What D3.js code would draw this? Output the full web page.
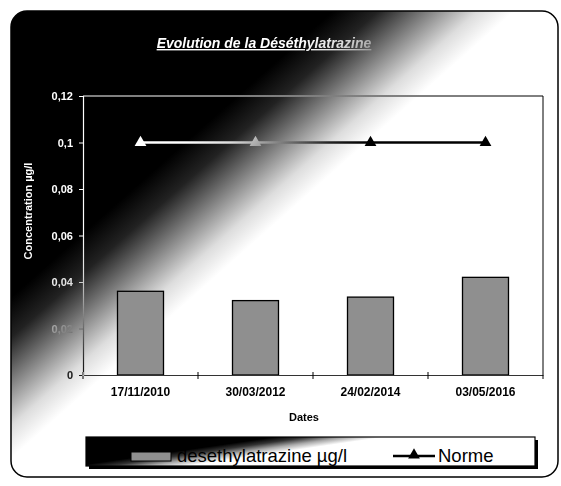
<!DOCTYPE html>
<html>
<head>
<meta charset="utf-8">
<script src="https://cdn.jsdelivr.net/npm/d3@7"></script>
<style>
  body { margin: 0; background: #fff; }
  svg { display: block; font-family: "Liberation Sans", Arial, sans-serif; }
</style>
</head>
<body>
<svg id="chart" width="561" height="486"></svg>
<script>
"use strict";

var dates = ["17/11/2010", "30/03/2012", "24/02/2014", "03/05/2016"];
var desethylatrazine = [0.036, 0.032, 0.0335, 0.042];
var norme = [0.1, 0.1, 0.1, 0.1];
var yTickValues = [0, 0.02, 0.04, 0.06, 0.08, 0.1, 0.12];
var yTickLabels = ["0", "0,02", "0,04", "0,06", "0,08", "0,1", "0,12"];

var BAR_FILL = "#8f8f8f";
var plot = { left: 83, right: 543, top: 96, bottom: 375 };

var svg = d3.select("#chart");
var defs = svg.append("defs");

function addStops(gradient, stops) {
  stops.forEach(function (s) {
    gradient.append("stop").attr("offset", s[0]).attr("stop-color", s[1]);
  });
}

// scanned chart: dark top left corner fading to white along a diagonal band
addStops(defs.append("linearGradient")
  .attr("id", "bgFill")
  .attr("gradientUnits", "userSpaceOnUse")
  .attr("x1", 152).attr("y1", 172).attr("x2", 232).attr("y2", 262),
  [[0, "#000"], [0.25, "#222"], [0.55, "#888"], [0.8, "#ddd"], [1, "#fff"]]);

addStops(defs.append("linearGradient")
  .attr("id", "legendFill")
  .attr("gradientUnits", "userSpaceOnUse")
  .attr("x1", 69.9).attr("y1", 466.8).attr("x2", 72.2).attr("y2", 482.6),
  [[0, "#000"], [0.3, "#333"], [0.65, "#aaa"], [1, "#fff"]]);

svg.append("rect")
  .attr("x", 11).attr("y", 11).attr("width", 547).attr("height", 466)
  .attr("rx", 16)
  .attr("fill", "url(#bgFill)")
  .attr("stroke", "#000")
  .attr("stroke-width", 1.5);

var x = d3.scaleBand().domain(dates).range([plot.left, plot.right]);
var y = d3.scaleLinear().domain([0, 0.12]).range([plot.bottom, plot.top]);

// bars, 40% of the category band, centred
svg.append("g")
  .selectAll("rect")
  .data(desethylatrazine)
  .enter()
  .append("rect")
  .attr("x", function (d, i) { return x(dates[i]) + x.bandwidth() * 0.3; })
  .attr("y", function (d) { return y(d); })
  .attr("width", x.bandwidth() * 0.4)
  .attr("height", function (d) { return y(0) - y(d); })
  .attr("fill", BAR_FILL)
  .attr("stroke", "#000")
  .attr("stroke-width", 1.3);

// x axis: labels centred, ticks between the categories
var xAxis = svg.append("g")
  .attr("transform", "translate(0," + plot.bottom + ")")
  .call(d3.axisBottom(x).tickSize(0).tickPadding(12));
xAxis.select(".domain").attr("stroke", "#333").attr("stroke-width", 1.2);
xAxis.selectAll("text")
  .attr("fill", "#000")
  .style("font-size", "12px")
  .style("font-weight", "bold");
xAxis.selectAll("line.sep")
  .data(dates.concat([null]))
  .enter()
  .append("line")
  .attr("class", "sep")
  .attr("x1", function (d) { return d === null ? plot.right : x(d); })
  .attr("x2", function (d) { return d === null ? plot.right : x(d); })
  .attr("y1", -3)
  .attr("y2", 4)
  .attr("stroke", "#000");

svg.append("text")
  .attr("x", 304).attr("y", 421)
  .attr("text-anchor", "middle")
  .style("font-size", "11px")
  .style("font-weight", "bold")
  .text("Dates");

// everything drawn in white here comes out inverted: white on the dark part, black on the light part
var inv = svg.append("g").style("mix-blend-mode", "difference");

inv.append("path")
  .attr("d", "M" + plot.left + "," + plot.top + "H" + plot.right + "V" + plot.bottom)
  .attr("fill", "none")
  .attr("stroke", "#fff")
  .attr("stroke-width", 1);

var yAxis = inv.append("g")
  .attr("transform", "translate(" + plot.left + ",0)")
  .call(d3.axisLeft(y)
    .tickValues(yTickValues)
    .tickFormat(function (d, i) { return yTickLabels[i]; })
    .tickSize(4)
    .tickPadding(6));
yAxis.select(".domain").attr("stroke", "#fff").attr("stroke-width", 1.2);
yAxis.selectAll(".tick line").attr("stroke", "#fff");
yAxis.selectAll("text")
  .attr("fill", "#fff")
  .style("font-size", "11px")
  .style("font-weight", "bold");

inv.append("text")
  .attr("transform", "translate(32,211) rotate(-90)")
  .attr("text-anchor", "middle")
  .attr("fill", "#fff")
  .style("font-size", "11px")
  .style("font-weight", "bold")
  .text("Concentration µg/l");

inv.append("text")
  .attr("x", 264).attr("y", 48)
  .attr("text-anchor", "middle")
  .attr("fill", "#fff")
  .style("font-size", "14px")
  .style("font-weight", "bold")
  .style("font-style", "italic")
  .style("text-decoration", "underline")
  .text("Evolution de la Déséthylatrazine");

var normeLine = d3.line()
  .x(function (d, i) { return x(dates[i]) + x.bandwidth() / 2; })
  .y(function (d) { return y(d); });

var normeGroup = inv.append("g").style("isolation", "isolate");
normeGroup.append("path")
  .attr("d", normeLine(norme))
  .attr("fill", "none")
  .attr("stroke", "#fff")
  .attr("stroke-width", 2.5);
normeGroup.selectAll("path.marker")
  .data(norme)
  .enter()
  .append("path")
  .attr("class", "marker")
  .attr("d", d3.symbol().type(d3.symbolTriangle).size(60))
  .attr("transform", function (d, i) {
    return "translate(" + (x(dates[i]) + x.bandwidth() / 2) + "," + y(d) + ")";
  })
  .attr("fill", "#fff");

// legend
var legend = svg.append("g");
legend.append("rect")
  .attr("x", 89).attr("y", 440).attr("width", 449).attr("height", 29)
  .attr("fill", "#000");
legend.append("rect")
  .attr("x", 86).attr("y", 437).attr("width", 449).attr("height", 29)
  .attr("fill", "url(#legendFill)")
  .attr("stroke", "#000")
  .attr("stroke-width", 1.2);
legend.append("rect")
  .attr("x", 131).attr("y", 452).attr("width", 40).attr("height", 9)
  .attr("fill", BAR_FILL)
  .attr("stroke", "#000");
legend.append("text")
  .attr("x", 177).attr("y", 462)
  .style("font-size", "18.5px")
  .text("desethylatrazine µg/l");
legend.append("line")
  .attr("x1", 393).attr("x2", 435)
  .attr("y1", 456).attr("y2", 456)
  .attr("stroke", "#000")
  .attr("stroke-width", 2.5);
legend.append("path")
  .attr("d", d3.symbol().type(d3.symbolTriangle).size(60))
  .attr("transform", "translate(414,455)")
  .attr("fill", "#000");
legend.append("text")
  .attr("x", 438).attr("y", 462)
  .style("font-size", "18.5px")
  .text("Norme");
</script>
</body>
</html>
